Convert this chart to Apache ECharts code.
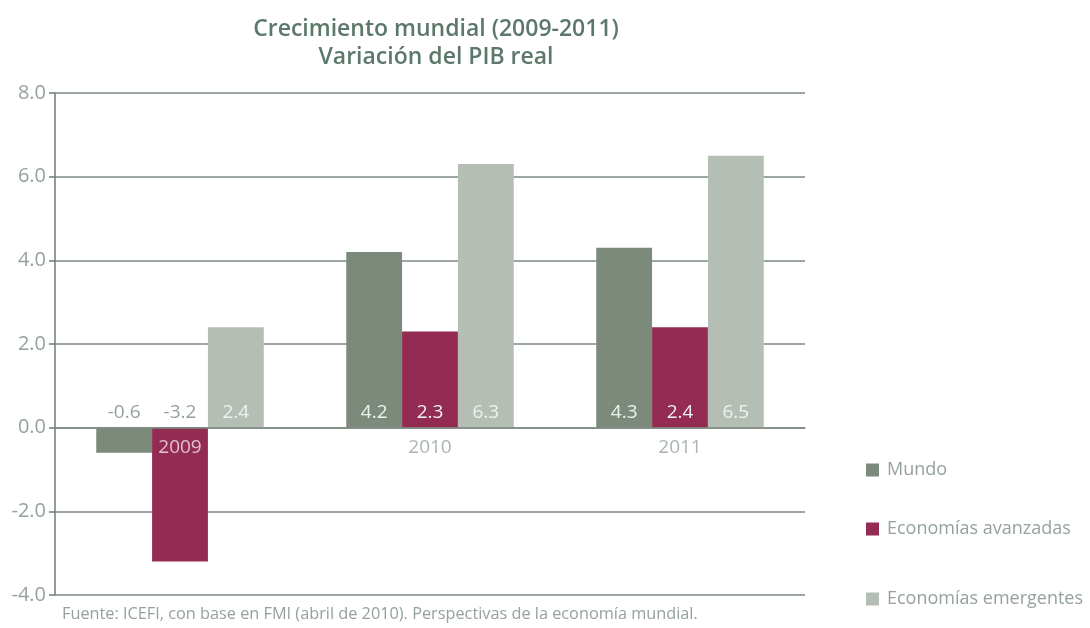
<!DOCTYPE html>
<html>
<head>
<meta charset="utf-8">
<script src="https://cdn.jsdelivr.net/npm/echarts@6/dist/echarts.min.js"></script>
<style>
  html, body { margin: 0; padding: 0; background: #ffffff; }
  #chart { width: 1090px; height: 628px; }
</style>
</head>
<body>
<div id="chart"></div>
<script>
// Real GDP growth, %, by year and group
const years = ['2009', '2010', '2011'];
const mundo = [-0.6, 4.2, 4.3];
const avanzadas = [-3.2, 2.3, 2.4];
const emergentes = [2.4, 6.3, 6.5];
const seriesNames = ['Mundo', 'Economías avanzadas', 'Economías emergentes'];
const yTicks = { min: -4, max: 8, step: 2 };

const colors = ['#7b8a7a', '#932b52', '#b5beb4'];
const textGray = '#95a29b';
const font = 'Open Sans';
const labelSize = 19;

// Positive bars carry their value inside, just above the zero line;
// negative bars show it in grey above the zero line.
function barData(values) {
  return values.map(v => ({
    value: v,
    label: v >= 0
      ? { position: 'insideBottom', distance: 6, color: '#eef2ee' }
      : { position: 'top', distance: 6, color: textGray }
  }));
}

const makeSeries = (name, values, color) => ({
  name: name,
  type: 'bar',
  data: barData(values),
  barGap: '0%',
  barCategoryGap: '33%',
  itemStyle: { color: color },
  label: {
    show: true,
    fontFamily: font,
    fontSize: labelSize,
    formatter: p => p.value.toFixed(1)
  },
  z: 3
});

const legendBase = {
  orient: 'vertical',
  left: 861,
  icon: 'rect',
  itemWidth: 13,
  itemHeight: 13,
  itemGap: 6,
  textStyle: { fontFamily: font, fontSize: 18, color: textGray, padding: [0, 0, 0, 3] }
};

const chart = echarts.init(document.getElementById('chart'), null, { renderer: 'canvas' });
chart.setOption({
  animation: false,
  backgroundColor: '#ffffff',
  title: {
    text: 'Crecimiento mundial (2009-2011)\nVariación del PIB real',
    left: 431,
    textAlign: 'center',
    top: 10,
    textStyle: {
      fontFamily: font,
      fontSize: 23,
      fontWeight: 600,
      color: '#5b786a',
      lineHeight: 28
    }
  },
  legend: [
    Object.assign({}, legendBase, { top: 456, data: [seriesNames[0]] }),
    Object.assign({}, legendBase, { top: 515, data: [seriesNames[1]] }),
    Object.assign({}, legendBase, { top: 585, data: [seriesNames[2]] })
  ],
  graphic: [{
    type: 'text',
    left: 62,
    top: 606,
    style: {
      text: 'Fuente: ICEFI, con base en FMI (abril de 2010). Perspectivas de la economía mundial.',
      font: '16.3px "Open Sans"',
      fill: textGray
    }
  }],
  grid: { left: 55, right: 285, top: 93, bottom: 33 },
  xAxis: {
    type: 'category',
    data: years,
    axisLine: { onZero: true, lineStyle: { color: '#7d8a83', width: 1.5 } },
    axisTick: { show: false },
    axisLabel: { show: false },
    z: 5
  },
  yAxis: {
    type: 'value',
    min: yTicks.min,
    max: yTicks.max,
    interval: yTicks.step,
    axisLine: { show: true, lineStyle: { color: '#6f7c75', width: 1.5 } },
    axisTick: { show: true, length: 6, lineStyle: { color: '#6f7c75', width: 1.5 } },
    axisLabel: {
      fontFamily: font,
      fontSize: 20,
      color: textGray,
      margin: 9,
      formatter: v => v.toFixed(1)
    },
    splitLine: { show: true, lineStyle: { color: '#7d8a83', width: 1.5 } }
  },
  series: [
    makeSeries(seriesNames[0], mundo, colors[0]),
    makeSeries(seriesNames[1], avanzadas, colors[1]),
    makeSeries(seriesNames[2], emergentes, colors[2]),
    {
      // year labels sitting just under the zero line
      name: 'years',
      type: 'scatter',
      symbolSize: 0,
      silent: true,
      data: years.map(y => ({
        value: [y, 0],
        label: { color: y === '2009' ? '#f3e6ec' : textGray }
      })),
      label: {
        show: true,
        position: 'bottom',
        distance: 10,
        fontFamily: font,
        fontSize: labelSize,
        formatter: p => p.value[0]
      },
      z: 6
    }
  ]
});
</script>
</body>
</html>
